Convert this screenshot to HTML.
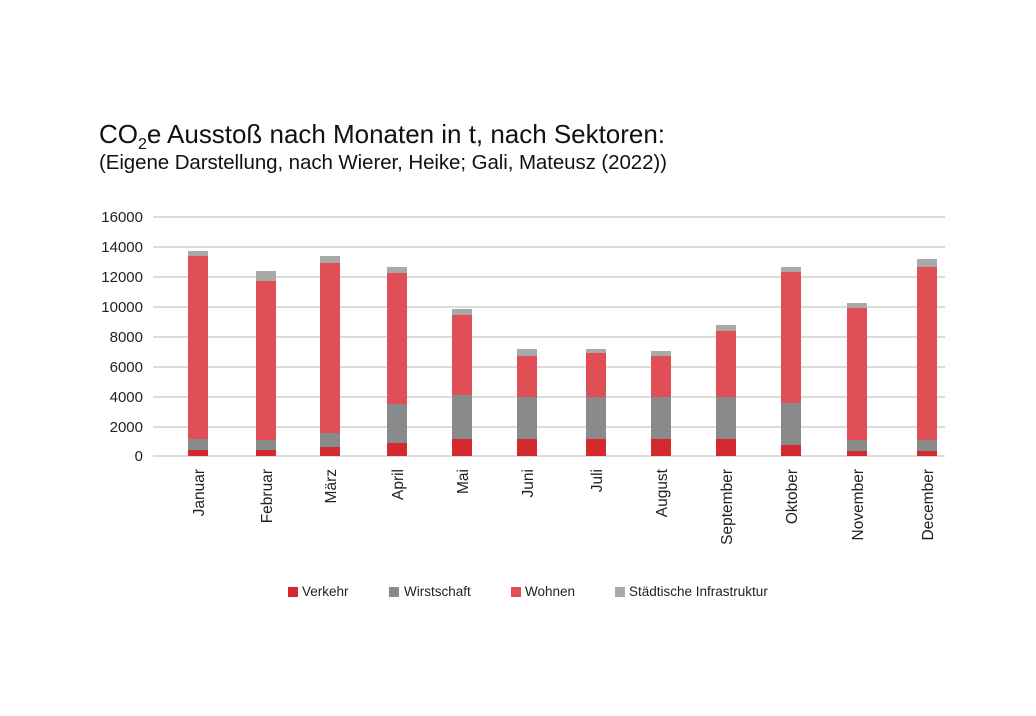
<!DOCTYPE html>
<html><head><meta charset="utf-8"><style>
html,body{margin:0;padding:0;background:#fff;}
svg{display:block;font-family:"Liberation Sans",Arial,sans-serif;}
</style></head><body>
<svg width="1036" height="716" viewBox="0 0 1036 716" xmlns="http://www.w3.org/2000/svg">
<rect width="1036" height="716" fill="#fff"/>
<text x="99" y="143" font-size="26" fill="#111" textLength="566">CO<tspan font-size="16" dy="6">2</tspan><tspan dy="-6">e Ausstoß nach Monaten in t, nach Sektoren:</tspan></text>
<text x="99" y="169" font-size="20.5" fill="#111" textLength="568">(Eigene Darstellung, nach Wierer, Heike; Gali, Mateusz (2022))</text>
<g stroke="#dcdcdc" stroke-width="2">
<line x1="153" x2="945" y1="217" y2="217"/><line x1="153" x2="945" y1="247" y2="247"/>
<line x1="153" x2="945" y1="277" y2="277"/><line x1="153" x2="945" y1="307" y2="307"/>
<line x1="153" x2="945" y1="337" y2="337"/><line x1="153" x2="945" y1="367" y2="367"/>
<line x1="153" x2="945" y1="397" y2="397"/><line x1="153" x2="945" y1="427" y2="427"/>
<line x1="153" x2="945" y1="456" y2="456"/>
</g>
<g font-size="15" fill="#222" text-anchor="end">
<text x="143" y="222">16000</text><text x="143" y="252">14000</text><text x="143" y="282">12000</text>
<text x="143" y="312">10000</text><text x="143" y="342">8000</text><text x="143" y="372">6000</text>
<text x="143" y="402">4000</text><text x="143" y="432">2000</text><text x="143" y="461">0</text>
</g>
<g>
<rect x="188" y="450" width="20" height="6" fill="#d42a2f"/><rect x="188" y="439" width="20" height="11" fill="#898a8c"/><rect x="188" y="256" width="20" height="183" fill="#e04f55"/><rect x="188" y="251" width="20" height="5" fill="#a9a9a9"/>
<rect x="256" y="450" width="20" height="6" fill="#d42a2f"/><rect x="256" y="440" width="20" height="10" fill="#898a8c"/><rect x="256" y="281" width="20" height="159" fill="#e04f55"/><rect x="256" y="271" width="20" height="10" fill="#a9a9a9"/>
<rect x="320" y="447" width="20" height="9" fill="#d42a2f"/><rect x="320" y="433" width="20" height="14" fill="#898a8c"/><rect x="320" y="263" width="20" height="170" fill="#e04f55"/><rect x="320" y="256" width="20" height="7" fill="#a9a9a9"/>
<rect x="387" y="443" width="20" height="13" fill="#d42a2f"/><rect x="387" y="404" width="20" height="39" fill="#898a8c"/><rect x="387" y="273" width="20" height="131" fill="#e04f55"/><rect x="387" y="267" width="20" height="6" fill="#a9a9a9"/>
<rect x="452" y="439" width="20" height="17" fill="#d42a2f"/><rect x="452" y="395" width="20" height="44" fill="#898a8c"/><rect x="452" y="315" width="20" height="80" fill="#e04f55"/><rect x="452" y="309" width="20" height="6" fill="#a9a9a9"/>
<rect x="517" y="439" width="20" height="17" fill="#d42a2f"/><rect x="517" y="397" width="20" height="42" fill="#898a8c"/><rect x="517" y="356" width="20" height="41" fill="#e04f55"/><rect x="517" y="349" width="20" height="7" fill="#a9a9a9"/>
<rect x="586" y="439" width="20" height="17" fill="#d42a2f"/><rect x="586" y="397" width="20" height="42" fill="#898a8c"/><rect x="586" y="353" width="20" height="44" fill="#e04f55"/><rect x="586" y="349" width="20" height="4" fill="#a9a9a9"/>
<rect x="651" y="439" width="20" height="17" fill="#d42a2f"/><rect x="651" y="397" width="20" height="42" fill="#898a8c"/><rect x="651" y="356" width="20" height="41" fill="#e04f55"/><rect x="651" y="351" width="20" height="5" fill="#a9a9a9"/>
<rect x="716" y="439" width="20" height="17" fill="#d42a2f"/><rect x="716" y="397" width="20" height="42" fill="#898a8c"/><rect x="716" y="331" width="20" height="66" fill="#e04f55"/><rect x="716" y="325" width="20" height="6" fill="#a9a9a9"/>
<rect x="781" y="445" width="20" height="11" fill="#d42a2f"/><rect x="781" y="403" width="20" height="42" fill="#898a8c"/><rect x="781" y="272" width="20" height="131" fill="#e04f55"/><rect x="781" y="267" width="20" height="5" fill="#a9a9a9"/>
<rect x="847" y="451" width="20" height="5" fill="#d42a2f"/><rect x="847" y="440" width="20" height="11" fill="#898a8c"/><rect x="847" y="308" width="20" height="132" fill="#e04f55"/><rect x="847" y="303" width="20" height="5" fill="#a9a9a9"/>
<rect x="917" y="451" width="20" height="5" fill="#d42a2f"/><rect x="917" y="440" width="20" height="11" fill="#898a8c"/><rect x="917" y="267" width="20" height="173" fill="#e04f55"/><rect x="917" y="259" width="20" height="8" fill="#a9a9a9"/>
</g>
<g font-size="15.5" fill="#222" text-anchor="end">
<text transform="translate(204,469) rotate(-90)">Januar</text>
<text transform="translate(272,469) rotate(-90)">Februar</text>
<text transform="translate(336,469) rotate(-90)">März</text>
<text transform="translate(403,469) rotate(-90)">April</text>
<text transform="translate(468,469) rotate(-90)">Mai</text>
<text transform="translate(533,469) rotate(-90)">Juni</text>
<text transform="translate(602,469) rotate(-90)">Juli</text>
<text transform="translate(667,469) rotate(-90)">August</text>
<text transform="translate(732,469) rotate(-90)">September</text>
<text transform="translate(797,469) rotate(-90)">Oktober</text>
<text transform="translate(863,469) rotate(-90)">November</text>
<text transform="translate(933,469) rotate(-90)">December</text>
</g>
<g font-size="13.5" fill="#222">
<rect x="288" y="587" width="10" height="10" fill="#d42a2f"/><text x="302" y="596">Verkehr</text>
<rect x="389" y="587" width="10" height="10" fill="#898a8c"/><text x="404" y="596">Wirstschaft</text>
<rect x="511" y="587" width="10" height="10" fill="#e04f55"/><text x="525" y="596">Wohnen</text>
<rect x="615" y="587" width="10" height="10" fill="#a9a9a9"/><text x="629" y="596">Städtische Infrastruktur</text>
</g>
</svg>
</body></html>
